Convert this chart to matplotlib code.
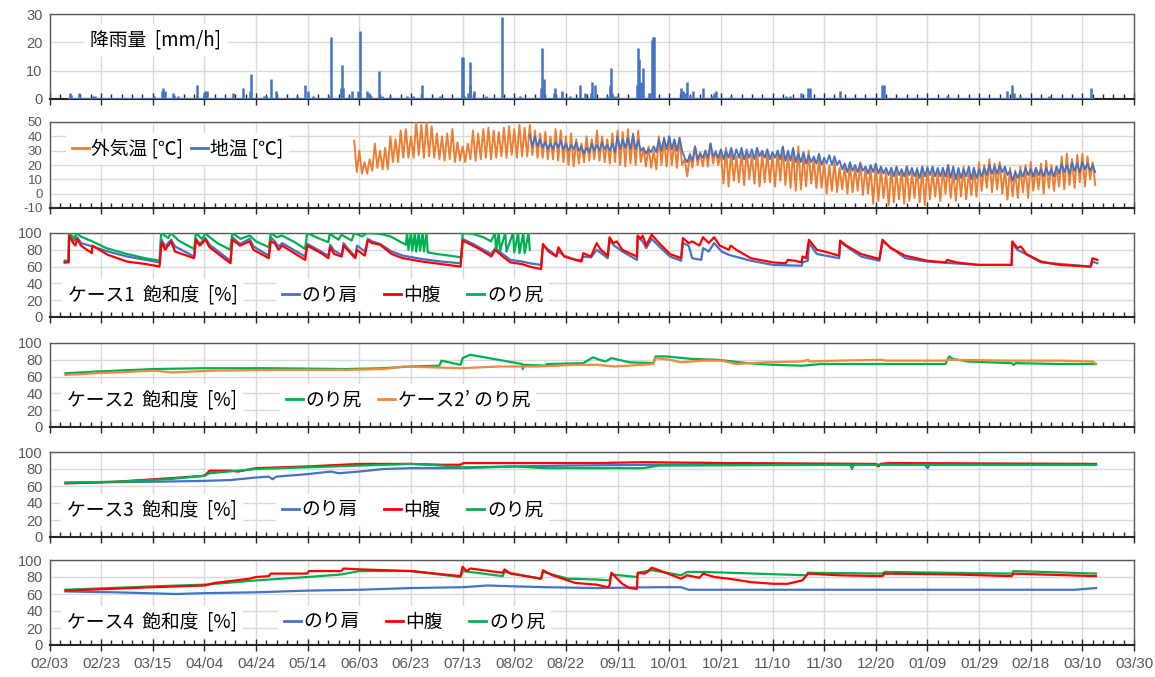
import matplotlib
matplotlib.use("Agg")
import matplotlib.pyplot as plt
from matplotlib.ticker import MultipleLocator
from matplotlib.lines import Line2D
import numpy as np

plt.rcParams['font.family'] = ['Noto Sans CJK JP', 'DejaVu Sans']
plt.rcParams['axes.unicode_minus'] = False

BLUE = "#4472C4"
ORANGE = "#ED7D31"
ORANGE2 = "#F08A3C"
RED = "#FF0000"
GREEN = "#00B050"
GRAY = "#595959"
TICK_FONT = "Liberation Sans"

# x axis: days counted from 02/03
date_labels = ["02/03", "02/23", "03/15", "04/04", "04/24", "05/14", "06/03", "06/23",
               "07/13", "08/02", "08/22", "09/11", "10/01", "10/21", "11/10", "11/30",
               "12/20", "01/09", "01/29", "02/18", "03/10", "03/30"]

# ---- rainfall [mm/h]
rain_day = [7.9, 8.3, 11.4, 16.7, 17.5, 40.4, 43.7, 44.1, 44.9, 47.7, 48.1, 49.9,
            57.2, 60.0, 60.4, 60.9, 71.1, 74.8, 77.8, 78.1, 83.0, 83.7, 85.6, 87.7,
            95.9, 99.0, 100.0, 102.2, 108.1, 108.9, 113.0, 113.3, 113.8, 115.9, 117.0,
            119.6, 120.3, 123.0, 123.7, 124.4, 127.7, 128.9, 131.9, 138.5, 140.7, 144.4,
            151.1, 159.7, 160.0, 160.7, 162.2, 162.7, 163.0, 164.4, 168.9, 175.3, 182.2,
            190.4, 190.8, 191.4, 195.3, 195.9, 198.5, 201.5, 205.6, 207.4, 209.6, 210.1,
            211.1, 215.9, 217.2, 217.4, 217.9, 218.7, 219.7, 227.5, 228.0, 228.4, 229.0,
            229.8, 232.1, 232.7, 233.2, 233.7, 234.1, 244.6, 245.5, 246.0, 247.0, 248.2,
            249.3, 253.1, 256.7, 257.4, 258.1, 263.8, 285.1, 286.6, 291.1, 293.7, 294.4,
            306.1, 322.6, 323.1, 347.7, 370.8, 372.6, 373.4, 375.8, 386.9, 403.5]
rain_mm = [2, 1.5, 2, 1, 1, 1, 3, 4, 3, 2, 1.5, 1,
           5, 2, 3, 3, 2, 4, 3, 9, 1, 1, 7, 3,
           1, 5, 3, 1, 1, 22, 4, 12, 4, 1, 3,
           3, 24, 3, 2, 1, 10, 1, 1, 1, 1, 5,
           1, 15, 15, 1, 2, 5, 13, 3, 1, 29, 1,
           4, 18, 7, 2, 4, 3, 1, 5, 2, 2, 6,
           5, 1, 5, 11, 2, 1, 1, 5, 18, 14, 6,
           11, 2, 2, 21, 22, 22, 4, 3, 2, 6, 1,
           3, 4, 1, 2, 3, 1, 1, 1, 2, 4, 4,
           3, 5, 5, 1, 3, 5, 2, 1, 1, 4]

# ---- temperature [deg C]: daily high / low, one pair every 2 days
air_start, soil_start = 118, 186
air_hi = [37, 30, 22, 24, 35, 30, 32, 40, 38, 44,
          45, 40, 50, 48, 50, 47, 42, 40, 42, 45,
          36, 33, 35, 44, 42, 45, 46, 44, 43, 46,
          47, 45, 48, 46, 48, 44, 42, 43, 40, 45,
          44, 40, 42, 38, 35, 40, 38, 44, 40, 38,
          42, 44, 43, 45, 42, 44, 32, 33, 30, 40,
          38, 40, 37, 39, 24, 28, 33, 29, 30, 35,
          30, 28, 32, 30, 26, 29, 31, 27, 30, 28,
          29, 27, 30, 32, 28, 30, 33, 26, 30, 24,
          25, 22, 20, 23, 18, 20, 21, 19, 22, 18,
          18, 20, 17, 15, 18, 16, 17, 19, 15, 18,
          17, 19, 16, 15, 18, 20, 16, 17, 19, 15,
          18, 22, 20, 24, 21, 22, 17, 18, 16, 19,
          20, 22, 18, 21, 23, 20, 19, 26, 28, 24,
          27, 28, 26, 22]
air_lo = [15, 14, 14, 16, 18, 17, 17, 22, 22, 25,
          25, 25, 27, 25, 26, 25, 24, 23, 24, 22,
          23, 22, 24, 23, 24, 25, 24, 25, 26, 25,
          27, 25, 26, 26, 27, 25, 25, 24, 24, 23,
          22, 20, 19, 21, 22, 23, 24, 23, 22, 21,
          22, 20, 19, 21, 20, 22, 19, 18, 17, 20,
          19, 20, 18, 20, 12, 18, 20, 19, 19, 21,
          20, 7, 5, 9, 8, 6, 10, 7, 5, 8,
          8, 5, 9, 6, 4, 2, 3, 5, 7, 4,
          4, 0, 2, 1, 3, 0, 1, 2, -1, 0,
          -7, -5, -3, -8, -6, -4, -7, -5, -3, -6,
          -8, -4, -2, -5, 0, -3, -5, -2, -4, -1,
          -2, 2, 4, 1, 3, 0, -4, -2, -3, 1,
          -3, 2, 3, 0, 4, 2, 5, 3, 6, 4,
          8, 5, 10, 6]
soil_hi = [41, 40, 38, 36, 35, 36, 37, 35, 34, 36,
           33, 32, 35, 34, 36, 34, 35, 40, 38, 39,
           41, 37, 32, 31, 33, 38, 39, 40, 38, 39,
           25, 27, 33, 28, 30, 35, 29, 31, 30, 32,
           31, 32, 30, 31, 32, 30, 31, 29, 30, 33,
           30, 32, 28, 29, 27, 26, 28, 25, 27, 26,
           23, 21, 22, 20, 21, 19, 20, 21, 19, 18,
           18, 19, 17, 19, 18, 17, 19, 18, 19, 18,
           18, 20, 19, 18, 17, 19, 18, 17, 18, 20,
           19, 20, 19, 16, 15, 16, 18, 17, 18, 17,
           18, 17, 19, 21, 20, 22, 21, 22, 21, 20]
soil_lo = [33, 33, 32, 31, 31, 32, 31, 30, 31, 30,
           28, 29, 30, 30, 31, 30, 29, 31, 32, 31,
           31, 30, 28, 29, 29, 30, 31, 31, 30, 30,
           22, 23, 24, 25, 25, 26, 25, 24, 25, 24,
           25, 24, 25, 24, 26, 25, 24, 25, 24, 23,
           23, 22, 22, 21, 22, 21, 20, 21, 20, 20,
           17, 15, 16, 15, 16, 14, 15, 14, 14, 13,
           12, 13, 12, 13, 12, 11, 12, 13, 12, 12,
           12, 11, 10, 11, 12, 10, 11, 12, 13, 14,
           14, 15, 13, 9, 11, 12, 13, 12, 13, 12,
           13, 12, 14, 15, 14, 16, 15, 17, 16, 15]

# ---- case 1 saturation [%]
c1_sh_day = [5.9, 7.4, 7.6, 9.2, 10.7, 12.2, 16.6, 22.6, 30, 37.4, 42.6,
             43.4, 44.8, 47.1, 48.6, 56, 56.7, 58.2, 60.4, 62, 70.1,
             70.8, 73.8, 77.5, 79, 84.9, 85.7, 87.2, 88.7, 90.1, 99,
             99.8, 102.8, 105.7, 108, 108.7, 110.2, 113.2, 113.9, 115.4, 118.4,
             119.1, 122.1, 123.3, 125, 128, 132.5, 136.9, 144.3, 151.8, 159.2,
             160, 164, 168.1, 171.1, 172.6, 175.5, 178.5, 183, 185.9, 190.4,
             191.1, 193.3, 196.3, 197.1, 199.3, 203.7, 206, 206.7, 209.7, 211.9,
             216.2, 216.9, 218.3, 221.8, 227.5, 227.8, 229.7, 231.1, 233.2, 236.1, 240.3, 244.6,
             245.3, 247.5, 248.9, 252.4, 253.1, 255.3, 257.4, 260.3, 263.1, 271.6, 280.2, 291.3,
             291.6, 293.7, 294.1, 297.2, 305.8, 306.2, 314.3, 321.4, 322.6, 331.4, 339.9, 359.8, 372.6,
             372.9, 374.8, 376.2, 384, 403.2, 403.9, 405.8]
c1_sh = [67, 67, 100, 90, 95, 88, 84, 78, 72, 68, 65,
         92, 84, 92, 84, 72, 93, 87, 94, 86, 67,
         95, 87, 93, 84, 73, 95, 90, 84, 88, 72,
         87, 82, 77, 73, 86, 79, 74, 88, 82, 72,
         85, 78, 93, 90, 87, 78, 73, 69, 66, 64,
         93, 87, 80, 75, 82, 75, 68, 66, 64, 62,
         85, 80, 73, 78, 73, 68, 68, 72, 71, 80,
         70, 92, 86, 78, 68, 95, 90, 82, 93, 84, 72, 67,
         88, 85, 70, 68, 82, 78, 88, 78, 74, 67, 62, 61,
         65, 67, 88, 75, 70, 89, 72, 67, 90, 70, 66, 62, 62,
         88, 80, 78, 65, 60, 66, 64]
c1_mid_day = [5.9, 7.4, 7.6, 9.2, 10, 10.7, 12.2, 16.4, 16.6, 22.6, 30, 37.4, 42.6,
              43.4, 44.8, 47.1, 48.6, 56, 56.7, 58.2, 60.4, 62, 70.1,
              70.8, 73.8, 77.5, 79, 84.9, 85.7, 87.2, 88.7, 90.1, 99,
              99.8, 102.8, 105.7, 108, 108.7, 110.2, 113.2, 113.9, 115.4, 118.4,
              119.1, 122.1, 123.3, 125, 128, 132.5, 136.9, 144.3, 151.8, 159.2,
              160, 164, 168.1, 171.1, 172.6, 175.5, 178.5, 183, 185.9, 190.4,
              191.1, 193.3, 196.3, 197.1, 199.3, 203.7, 206, 206.7, 209.7, 211.9,
              213.5, 216.2, 216.9, 218.3, 219.7, 221.8, 227.5, 227.8, 229, 229.7, 231.1,
              233.2, 236.1, 240.3, 244.6,
              245.3, 247.5, 248.9, 251.7, 253.1, 255.3, 257.4, 259.6, 263.1, 263.8, 266,
              271.6, 280.2, 285.2, 285.9, 288.7, 291.3, 291.6, 293, 294.1, 297.2, 300, 305.8,
              306.2, 308.6, 314.3, 321.4, 322.6, 325.8, 331.4, 339.9, 347, 347.7, 351.2, 359.8, 372.6,
              372.9, 374.8, 376.2, 378.3, 384, 391.1, 403.2, 403.9, 405.8]
c1_mid = [65, 65, 97, 88, 85, 93, 85, 76, 85, 74, 66, 63, 60,
          89, 80, 90, 78, 70, 92, 85, 92, 83, 64,
          92, 85, 90, 80, 70, 90, 88, 80, 85, 68,
          85, 80, 75, 70, 83, 75, 72, 85, 80, 70,
          80, 73, 91, 88, 86, 75, 70, 66, 63, 60,
          91, 85, 78, 72, 80, 72, 65, 63, 60, 57,
          87, 78, 72, 83, 72, 68, 66, 76, 72, 88,
          80, 73, 95, 88, 90, 80, 72, 97, 93, 97, 85,
          98, 88, 75, 70,
          94, 88, 90, 85, 95, 88, 95, 85, 80, 85, 80,
          70, 65, 64, 68, 67, 65, 72, 70, 92, 80, 78, 73,
          91, 85, 75, 69, 92, 82, 73, 67, 65, 68, 65, 62, 62,
          90, 82, 84, 75, 66, 62, 60, 70, 68]
c1_toe_day = [5.9, 7.4, 7.6, 9.5, 10.7, 12, 16.6, 22, 30, 37, 42.6,
              43.2, 46, 47, 50, 56, 56.7, 59, 60.4, 65, 70,
              70.8, 74, 77.5, 80, 85, 85.7, 88, 90, 95, 99,
              99.8, 104, 108, 108.5, 112, 113, 117, 118, 121, 123, 128, 132, 135, 138,
              138.5, 139, 140, 140.5, 141.5, 142, 143, 143.5, 144.5, 145, 146, 146.5,
              150, 155, 159.5,
              160, 164, 168, 171,
              172.5, 173, 174, 174.5, 176.5, 177, 179.5, 180, 181.5, 182, 183.5, 184, 185.5, 186]
c1_toe = [65, 66, 100, 94, 100, 96, 90, 82, 75, 70, 67,
          100, 94, 100, 91, 81, 100, 93, 99, 88, 80,
          100, 93, 97, 90, 83, 100, 95, 97, 89, 81,
          100, 94, 89, 99, 92, 98, 91, 100, 96, 100, 99, 96, 91, 86,
          100, 80, 100, 79, 100, 78, 100, 79, 100, 78, 100, 77,
          75, 73, 71,
          100, 99, 95, 90,
          100, 80, 100, 79, 100, 78, 100, 77, 100, 76, 100, 76, 100, 80]

# ---- case 2 saturation [%]
c2_toe_day = [6.2, 18.1, 40.4, 59.7, 84.9, 114.6, 129.5, 139.9, 151, 151.8,
              159.2, 160, 162.9, 183, 183.3, 183.7, 191.9, 192.6, 206.7, 210.5,
              213, 215.4, 217.6, 220.4, 224.7, 233.9, 234.7, 238.9, 248.9, 258.8,
              270.2, 280.2, 291.6, 298.7, 320, 347, 348.4, 349.9, 355.6, 372.6,
              373.4, 374.1, 391.1, 405.3]
c2_toe = [64, 66, 69, 70, 70, 69, 70, 72, 73, 79,
          74, 82, 86, 75, 69, 74, 73, 75, 76, 83,
          80, 78, 82, 80, 77, 76, 84, 84, 81, 80,
          76, 74, 73, 75, 75, 75, 84, 81, 78, 76,
          74, 76, 75, 75]
c2p_toe_day = [6.2, 18.1, 40.4, 47.8, 62.7, 84.9, 114.6, 129.5, 136.9, 159.2,
               174, 188.9, 203.7, 212, 219, 233.9, 234.7, 240.3, 244.6, 253.1,
               260.3, 265.9, 277.3, 291.6, 293.7, 294.4, 305.8, 322.8, 323.6, 347,
               348.4, 372.6, 391.1, 403.9, 405.3]
c2p_toe = [62, 64, 67, 65, 67, 68, 68, 69, 72, 70,
           72, 72, 74, 74, 72, 75, 82, 80, 77, 79,
           79, 75, 77, 78, 80, 78, 79, 80, 79, 79,
           80, 79, 79, 78, 75]

# ---- case 3 saturation [%]
c3_sh_day = [6.2, 40.4, 59.7, 70.1, 80, 84.9, 86.4, 87.8, 100, 109, 112,
             120, 129.5, 140, 160, 180, 200, 234.7, 339, 340, 341, 405.3]
c3_sh = [64, 65, 66, 67, 70, 71, 68, 71, 74, 77, 75,
         77, 80, 81, 81, 83, 84, 85, 85, 81, 85, 85]
c3_mid_day = [6.2, 25.5, 46, 60, 62, 70, 73, 80, 100, 120, 140, 152,
              159, 160.5, 180, 212, 230, 263, 320, 321, 322, 325, 405.3]
c3_mid = [63, 65, 69, 72, 78, 78, 77, 81, 83, 86, 86, 85,
          85, 87, 87, 87, 88, 87, 86, 83, 86, 87, 86]
c3_toe_day = [6.2, 25.5, 46, 60, 62, 80, 100, 120, 140, 152,
              160, 180, 192, 230, 236, 310, 310.8, 311.5, 405.3]
c3_toe = [64, 65, 68, 72, 75, 80, 82, 84, 86, 84,
          82, 83, 81, 81, 84, 85, 80, 85, 85]

# ---- case 4 saturation [%]
c4_sh_day = [6.2, 25.5, 49, 60, 80, 100, 120, 140, 160, 169.6,
             180, 192, 212, 234.7, 244.6, 247.5, 291.6, 350, 397, 405.3]
c4_sh = [63, 62, 60, 61, 62, 64, 65, 67, 68, 70,
         69, 68, 67, 68, 68, 65, 65, 65, 65, 67]
c4_mid_day = [6.2, 40.4, 60, 64, 77.5, 80, 84.9, 85.7, 99.8, 100.5,
              113, 113.9, 120, 140, 159.2, 160, 161.5, 163, 175.5, 176.2,
              178.5, 190.4, 191.1, 194.8, 203.7, 211.9, 216.2, 216.9, 217.6, 221.8,
              224.7, 227.5, 227.8, 230.5, 231.5, 233.2, 236, 244.6, 247, 251.7,
              253.1, 257.4, 263.1, 271.6, 280.2, 285.9, 291.6, 293.7, 305.8, 322.6,
              323.3, 350, 372.6, 373.4, 405.3]
c4_mid = [64, 68, 70, 73, 78, 80, 81, 84, 84, 87,
          87, 90, 89, 87, 81, 92, 87, 90, 85, 89,
          84, 78, 88, 82, 73, 71, 68, 70, 85, 72,
          67, 66, 85, 84, 86, 91, 88, 78, 82, 79,
          84, 80, 78, 74, 72, 72, 76, 84, 82, 81,
          84, 83, 81, 84, 81]
c4_toe_day = [6.2, 40.4, 60, 80, 100, 113, 120, 140, 159.2, 160,
              175.5, 176.2, 190.4, 191.1, 200.8, 212, 216.9, 217.6, 227.5, 228,
              233.2, 244.6, 247, 253.1, 293.4, 293.7, 322.6, 323.3, 372.6, 373.4, 405.3]
c4_toe = [65, 69, 71, 76, 80, 83, 87, 87, 80, 87,
          81, 86, 78, 86, 78, 77, 76, 83, 80, 85,
          88, 82, 86, 86, 82, 85, 84, 86, 84, 87, 84]

# ------------------------------------------------------------------ layout
W, H = 1155, 677
fig = plt.figure(figsize=(W / 100, H / 100), dpi=100)
X0, X1 = 49.5, 1134
panels = [(14, 99), (122, 208), (233, 317), (343, 427), (452, 537), (560, 645)]
axes = [fig.add_axes([X0 / W, 1 - b / H, (X1 - X0) / W, (b - t) / H]) for t, b in panels]


def ax_xy(i, xpx, ypx):
    t, b = panels[i]
    return (xpx - X0) / (X1 - X0), (b - ypx) / (b - t)


def style(ax, lo, hi, step, ysize=10.5, last=False):
    ax.set_xlim(0, 420)
    ax.set_ylim(lo, hi)
    ax.yaxis.set_major_locator(MultipleLocator(step))
    ax.set_xticks(range(0, 421, 20))
    ax.xaxis.set_minor_locator(MultipleLocator(4))
    ax.grid(True, which='major', color='#d9d9d9', lw=1)
    ax.set_axisbelow(True)
    ax.tick_params(axis='y', length=0, labelsize=ysize, labelcolor=GRAY, pad=5)
    ax.tick_params(axis='x', which='major', direction='inout', length=8, width=1, color='#262626')
    ax.tick_params(axis='x', which='minor', direction='in', length=3.5, width=1, color='#262626')
    if last:
        ax.set_xticklabels(date_labels)
        ax.tick_params(axis='x', labelsize=11, labelcolor=GRAY, pad=5)
    else:
        ax.tick_params(axis='x', labelbottom=False)
    for lab in ax.get_yticklabels() + ax.get_xticklabels():
        lab.set_family(TICK_FONT)
    for s in ('top', 'left', 'right'):
        ax.spines[s].set_color('#595959')
        ax.spines[s].set_linewidth(1)
    ax.spines['bottom'].set_color('#262626')
    ax.spines['bottom'].set_linewidth(1.5)


def title(i, text, xpx, ypx):
    x, y = ax_xy(i, xpx, ypx)
    axes[i].text(x, y, text, transform=axes[i].transAxes, fontsize=13.5, va='center', ha='left',
                 zorder=5, bbox=dict(fc='white', ec='none', pad=4))


def legend(i, colors, labels, xpx, ypx, colsp=1.4):
    x, y = ax_xy(i, xpx, ypx)
    hs = [Line2D([], [], color=c, lw=2) for c in colors]
    lg = axes[i].legend(hs, labels, ncol=len(hs), loc='center left', bbox_to_anchor=(x, y),
                        fontsize=13.5, handlelength=0.9, handletextpad=0.15, columnspacing=colsp,
                        frameon=True, framealpha=1, edgecolor='none', facecolor='white',
                        borderpad=0.3, borderaxespad=0)
    lg.set_zorder(6)


# panel 1: rain
ax = axes[0]
style(ax, 0, 30, 10)
ax.plot([7.5, 404], [0, 0], color=BLUE, lw=1.6, zorder=3)
ax.vlines(rain_day, 0, rain_mm, colors=BLUE, lw=1.8, zorder=3)
title(0, "降雨量  [mm/h]", 90, 40)

# panel 2: temperature
ax = axes[1]
style(ax, -10, 50, 10, ysize=9.5)
ad = np.arange(air_start, air_start + 2 * len(air_hi), 2)
sd = np.arange(soil_start, soil_start + 2 * len(soil_hi), 2)
ax.plot(np.column_stack([ad, ad + 1]).ravel(), np.column_stack([air_hi, air_lo]).ravel(),
        color=ORANGE, lw=1.4, zorder=3)
ax.plot(np.column_stack([sd, sd + 1]).ravel(), np.column_stack([soil_hi, soil_lo]).ravel(),
        color=BLUE, lw=1.3, zorder=4)
legend(1, [ORANGE, BLUE], ["外気温 [℃]", "地温 [℃]"], 66, 149, colsp=0.4)

# panel 3: case 1
ax = axes[2]
style(ax, 0, 100, 20)
ax.plot(c1_sh_day, c1_sh, color=BLUE, lw=1.6, zorder=3)
ax.plot(c1_mid_day, c1_mid, color=RED, lw=1.6, zorder=4)
ax.plot(c1_toe_day, c1_toe, color=GREEN, lw=1.6, zorder=3.5)
title(2, "ケース1  飽和度  [%]", 68, 295)
legend(2, [BLUE, RED, GREEN], ["のり肩", "中腹", "のり尻"], 276, 295)

# panel 4: case 2
ax = axes[3]
style(ax, 0, 100, 20)
ax.plot(c2_toe_day, c2_toe, color=GREEN, lw=1.6, zorder=3)
ax.plot(c2p_toe_day, c2p_toe, color=ORANGE2, lw=1.6, zorder=4)
title(3, "ケース2  飽和度  [%]", 67, 400)
legend(3, [GREEN, ORANGE2], ["のり尻", "ケース2’ のり尻"], 280, 400, colsp=0.9)

# panel 5: case 3
ax = axes[4]
style(ax, 0, 100, 20)
ax.plot(c3_sh_day, c3_sh, color=BLUE, lw=1.6, zorder=3)
ax.plot(c3_mid_day, c3_mid, color=RED, lw=1.6, zorder=4)
ax.plot(c3_toe_day, c3_toe, color=GREEN, lw=1.6, zorder=5)
title(4, "ケース3  飽和度  [%]", 67, 510)
legend(4, [BLUE, RED, GREEN], ["のり肩", "中腹", "のり尻"], 276, 510)

# panel 6: case 4
ax = axes[5]
style(ax, 0, 100, 20, last=True)
ax.plot(c4_sh_day, c4_sh, color=BLUE, lw=1.6, zorder=3)
ax.plot(c4_mid_day, c4_mid, color=RED, lw=1.6, zorder=4)
ax.plot(c4_toe_day, c4_toe, color=GREEN, lw=1.6, zorder=3.5)
title(5, "ケース4  飽和度  [%]", 67, 622)
legend(5, [BLUE, RED, GREEN], ["のり肩", "中腹", "のり尻"], 278, 622)

fig.savefig("out.png", dpi=100)
